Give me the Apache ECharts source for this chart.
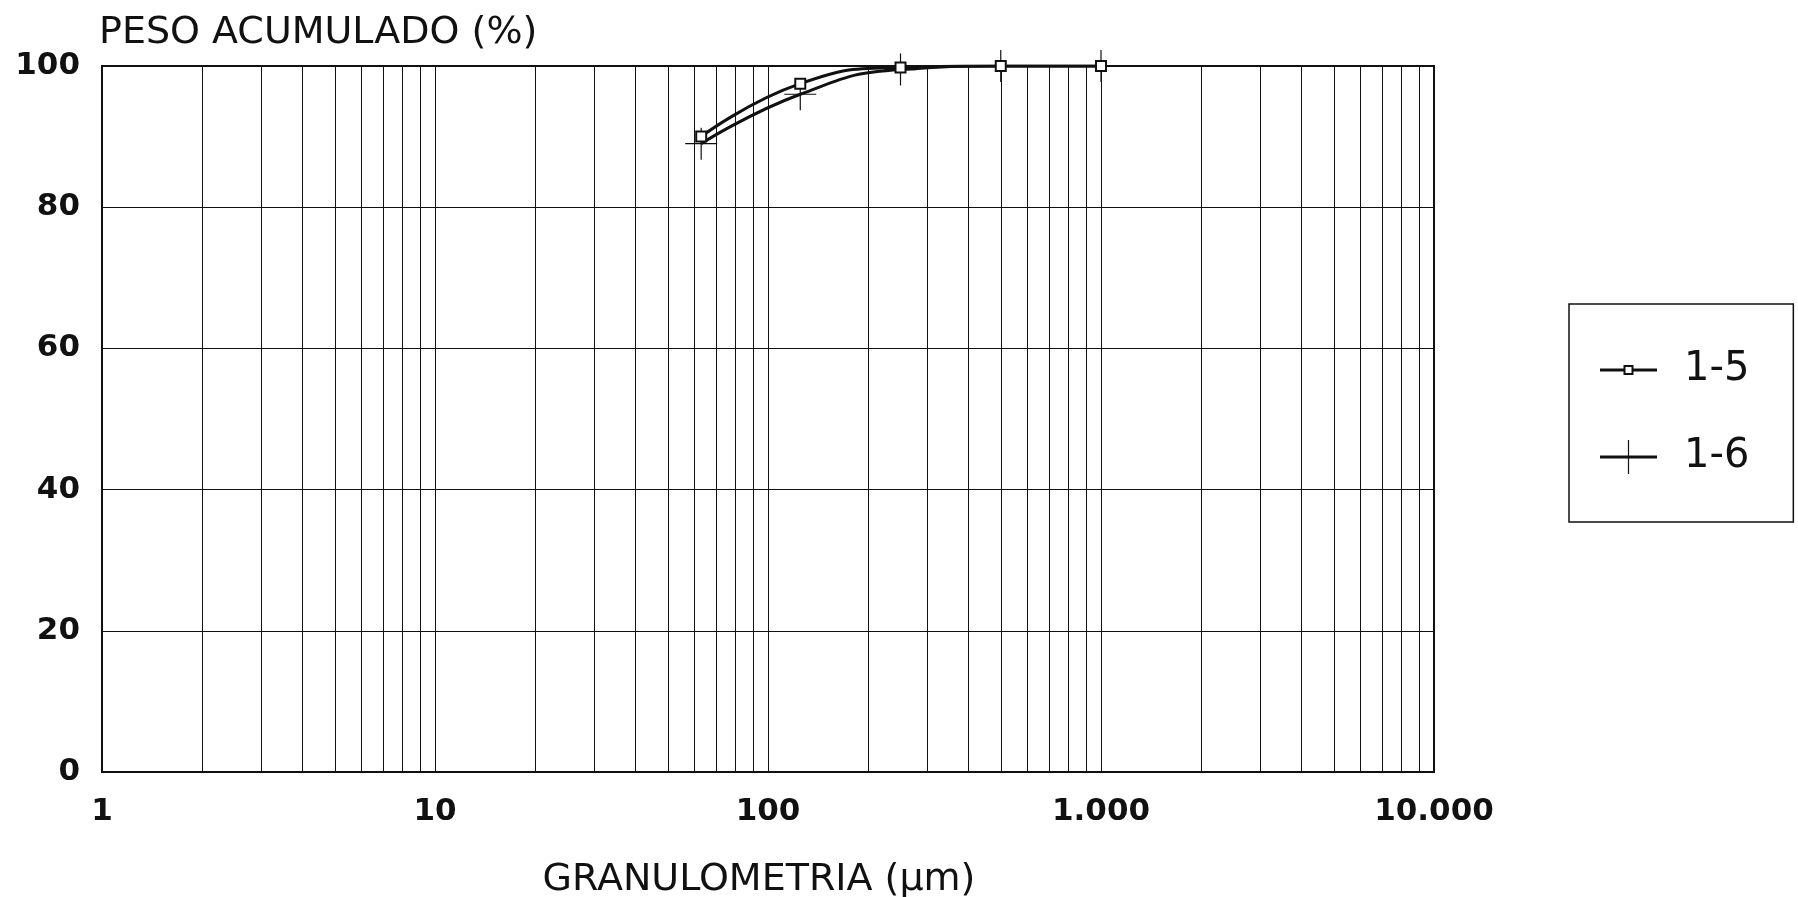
<!DOCTYPE html>
<html><head><meta charset="utf-8">
<script src="https://cdn.jsdelivr.net/npm/echarts@6/dist/echarts.min.js"></script>
<style>html,body{margin:0;padding:0;background:#fff}#c{width:1798px;height:897px}</style>
</head><body><div id="c"></div>
<script>
const sizes = [63, 125, 250, 500, 1000];
const serie15 = [90, 97.5, 99.8, 100, 100];
const serie16 = [89, 96, 99.5, 100, 100];
const seriesNames = ['1-5', '1-6'];
const xTickLabels = {1: '1', 10: '10', 100: '100', 1000: '1.000', 10000: '10.000'};
const minorGrid = [2,3,4,5,6,7,8,9,20,30,40,50,60,70,80,90,200,300,400,500,600,700,800,900,2000,3000,4000,5000,6000,7000,8000,9000];

const crossPath = 'path://M-16,-0.6H16V0.6H-16Z M-0.6,-16H0.6V16H-0.6Z';
// legend icons drawn in a 57x34 box (corner moves fix the bounding box)
const legendIcon15 = 'path://M0,0L0,0Z M57,34L57,34Z M0,15.5H23.5V18.5H0Z M33.5,15.5H57V18.5H33.5Z M23.5,12H33.5V14H23.5Z M23.5,20H33.5V22H23.5Z M23.5,12H25.5V22H23.5Z M31.5,12H33.5V22H31.5Z';
const legendIcon16 = 'path://M0,0L0,0Z M57,34L57,34Z M0,15.5H57V18.5H0Z M27.9,0H29.1V34H27.9Z';
const font = 'DejaVu Sans, Liberation Sans, Arial, sans-serif';

const chart = echarts.init(document.getElementById('c'));
chart.setOption({
  animation: false,
  backgroundColor: '#fff',
  title: {
    text: 'PESO ACUMULADO (%)',
    left: 94, top: 9,
    textStyle: {fontFamily: font, fontSize: 38, fontWeight: 'normal', color: '#111'}
  },
  grid: {left: 102, right: 364, top: 66, bottom: 125, outerBoundsMode: 'none', containLabel: false,
    show: true, borderColor: '#111', borderWidth: 2, backgroundColor: 'transparent'},
  legend: {
    orient: 'vertical', left: 1569, top: 304,
    padding: [46, 44, 45, 31],
    itemGap: 47,
    itemWidth: 57, itemHeight: 34,
    borderColor: '#111', borderWidth: 1.5,
    textStyle: {fontFamily: font, fontSize: 40, color: '#111', padding: [0, 0, 0, 22]},
    data: [
      {name: seriesNames[0], icon: legendIcon15, itemStyle: {color: '#111', borderWidth: 0}},
      {name: seriesNames[1], icon: legendIcon16, itemStyle: {color: '#111', borderWidth: 0}}
    ]
  },
  xAxis: {
    type: 'log', logBase: 10, min: 1, max: 10000,
    name: 'GRANULOMETRIA (µm)', nameLocation: 'middle', nameGap: 89,
    nameTextStyle: {fontFamily: font, fontSize: 38, color: '#111', padding: [0, 18, 0, 0]},
    axisLine: {lineStyle: {color: '#111', width: 2}},
    axisTick: {show: false},
    axisLabel: {fontFamily: font, fontSize: 31, fontWeight: 'bold', color: '#111', margin: 24,
      formatter: v => xTickLabels[Math.round(v)] || ''},
    splitLine: {show: true, lineStyle: {color: '#111', width: 1}}
  },
  yAxis: {
    type: 'value', min: 0, max: 100, interval: 20,
    axisLine: {show: true, lineStyle: {color: '#111', width: 2}},
    axisTick: {show: false},
    axisLabel: {fontFamily: font, fontSize: 31, fontWeight: 'bold', color: '#111', margin: 22},
    splitLine: {show: true, lineStyle: {color: '#111', width: 1}}
  },
  series: [
    {
      name: seriesNames[0], type: 'line', smooth: 0.5,
      data: sizes.map((s, i) => [s, serie15[i]]),
      symbol: 'rect', symbolSize: 10,
      itemStyle: {color: '#fff', borderColor: '#111', borderWidth: 2},
      lineStyle: {color: '#111', width: 3},
      z: 5,
      markLine: {
        silent: true, symbol: 'none', label: {show: false},
        lineStyle: {color: '#111', width: 1, type: 'solid'},
        data: minorGrid.map(v => ({xAxis: v}))
      }
    },
    {
      name: seriesNames[1], type: 'line', smooth: 0.5,
      data: sizes.map((s, i) => [s, serie16[i]]),
      symbol: crossPath, symbolSize: 32,
      itemStyle: {color: '#111'},
      lineStyle: {color: '#111', width: 3},
      z: 4
    }
  ]
});
</script></body></html>
